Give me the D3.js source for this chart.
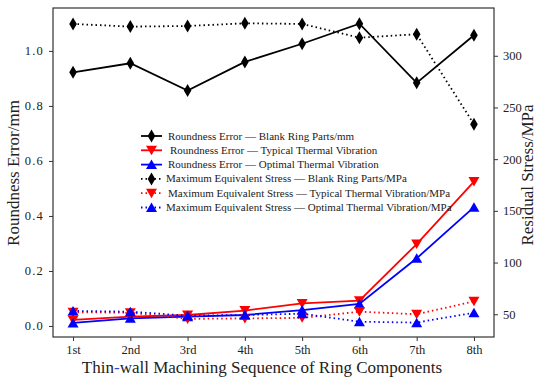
<!DOCTYPE html>
<html>
<head>
<meta charset="utf-8">
<script src="https://cdn.jsdelivr.net/npm/d3@7"></script>
<style>
  body { margin: 0; background: #fff; }
  svg text { font-family: "Liberation Serif", "DejaVu Serif", serif; fill: #222; }
</style>
</head>
<body>
<svg id="chart" width="550" height="380"></svg>
<script>
// data
const stages = ["1st", "2nd", "3rd", "4th", "5th", "6th", "7th", "8th"];
const roundBlank   = [0.922, 0.955, 0.856, 0.960, 1.026, 1.099, 0.884, 1.057];
const roundTypical = [0.022, 0.034, 0.040, 0.056, 0.082, 0.092, 0.298, 0.525];
const roundOptimal = [0.011, 0.028, 0.034, 0.040, 0.058, 0.080, 0.246, 0.432];
const stressBlank   = [330.8, 328.2, 328.8, 331.4, 330.8, 317.5, 320.8, 233.8];
const stressTypical = [52.0, 51.5, 45.5, 46.0, 46.5, 52.5, 50.0, 62.5];
const stressOptimal = [53.2, 52.5, 48.6, 49.3, 50.5, 42.8, 41.9, 51.5];
const leftTicks = [0.0, 0.2, 0.4, 0.6, 0.8, 1.0];
const rightTicks = [50, 100, 150, 200, 250, 300];

const series = [
  {name: "Roundness Error \u2014 Blank Ring Parts/mm", vals: roundBlank, color: "#000", dash: null, mark: "diamond", axis: "l", dx: 0},
  {name: "Roundness Error \u2014 Typical Thermal Vibration", vals: roundTypical, color: "#ff0000", dash: null, mark: "down", axis: "l", dx: 2},
  {name: "Roundness Error \u2014 Optimal Thermal Vibration", vals: roundOptimal, color: "#0000ff", dash: null, mark: "up", axis: "l", dx: 0},
  {name: "Maximum Equivalent Stress \u2014 Blank Ring Parts/MPa", vals: stressBlank, color: "#000", dash: "1.5,3", mark: "diamond", axis: "r", dx: -2},
  {name: "Maximum Equivalent Stress \u2014 Typical Thermal Vibration/MPa", vals: stressTypical, color: "#ff0000", dash: "1.5,3", mark: "down", axis: "r", dx: 0},
  {name: "Maximum Equivalent Stress \u2014 Optimal Thermal Vibration/MPa", vals: stressOptimal, color: "#0000ff", dash: "1.5,3", mark: "up", axis: "r", dx: -2}
];

const serif = '"Liberation Serif", "DejaVu Serif", serif';
const svg = d3.select("#chart");
const L = 53, R = 494, T = 8, B = 337;

const x = d3.scalePoint().domain(stages).range([L, R]).padding(0.35);
const yL = d3.scaleLinear().domain([-0.04, 1.156]).range([B, T]);
const yR = d3.scaleLinear().domain([28, 346.2]).range([B, T]);

function markPath(kind) {
  if (kind === "diamond") return "M0,-6.5L3.8,0L0,6.5L-3.8,0Z";
  if (kind === "down") return "M-5.5,-4.5L5.5,-4.5L0,5Z";
  return "M-5.5,4.5L5.5,4.5L0,-5Z";
}

// axes
const axL = svg.append("g").attr("transform", `translate(${L},0)`)
  .call(d3.axisLeft(yL).tickValues(leftTicks).tickFormat(d3.format(".1f")).tickSize(4).tickPadding(5));
const axR = svg.append("g").attr("transform", `translate(${R},0)`)
  .call(d3.axisRight(yR).tickValues(rightTicks).tickSize(4).tickPadding(5));
const axB = svg.append("g").attr("transform", `translate(0,${B})`)
  .call(d3.axisBottom(x).tickSize(4).tickPadding(4));
[axL, axR, axB].forEach(g => {
  g.attr("font-family", null).attr("font-size", null);
  g.select(".domain").remove();
  g.selectAll(".tick line").attr("stroke", "#333").attr("stroke-width", 1);
  g.selectAll(".tick text").style("font-family", serif).style("font-size", "12.5px").attr("fill", "#333");
});
axL.selectAll(".tick text").style("letter-spacing", "1.2px");

svg.append("rect").attr("x", L).attr("y", T).attr("width", R - L).attr("height", B - T)
  .attr("fill", "none").attr("stroke", "#333").attr("stroke-width", 1.2);

// lines + markers
series.forEach(s => {
  const y = s.axis === "l" ? yL : yR;
  const line = d3.line().x((d, i) => x(stages[i])).y(d => y(d));
  svg.append("path").datum(s.vals).attr("d", line)
    .attr("fill", "none").attr("stroke", s.color).attr("stroke-width", 1.8)
    .attr("stroke-dasharray", s.dash);
  svg.append("g").selectAll("path").data(s.vals).join("path")
    .attr("transform", (d, i) => `translate(${x(stages[i])},${y(d)})`)
    .attr("d", markPath(s.mark)).attr("fill", s.color);
});

// legend
const leg = svg.append("g");
series.forEach((s, i) => {
  const yy = 136 + i * 14.3;
  const g = leg.append("g").attr("transform", `translate(0,${yy})`);
  g.append("line").attr("x1", 141).attr("x2", 162).attr("y1", 0).attr("y2", 0)
    .attr("stroke", s.color).attr("stroke-width", 1.8).attr("stroke-dasharray", s.dash);
  g.append("path").attr("transform", "translate(151.5,0)").attr("d", markPath(s.mark)).attr("fill", s.color);
  g.append("text").attr("x", 168 + s.dx).attr("y", 3.5)
    .style("font-family", serif).style("font-size", "11px").attr("fill", "#111").text(s.name);
});

// axis titles
svg.append("text").attr("transform", "translate(19,173) rotate(-90)").attr("text-anchor", "middle")
  .style("font-size", "17px").text("Roundness Error/mm");
svg.append("text").attr("transform", "translate(533,175) rotate(-90)").attr("text-anchor", "middle")
  .style("font-size", "17px").text("Residual Stress/MPa");
const xt = svg.append("text").attr("x", 262).attr("y", 373).attr("text-anchor", "middle").style("font-size", "17px");
xt.append("tspan").text("Thin");
xt.append("tspan").style("fill", "#3344cc").text("-");
xt.append("tspan").text("wall Machining Sequence of Ring Components");
</script>
</body>
</html>
